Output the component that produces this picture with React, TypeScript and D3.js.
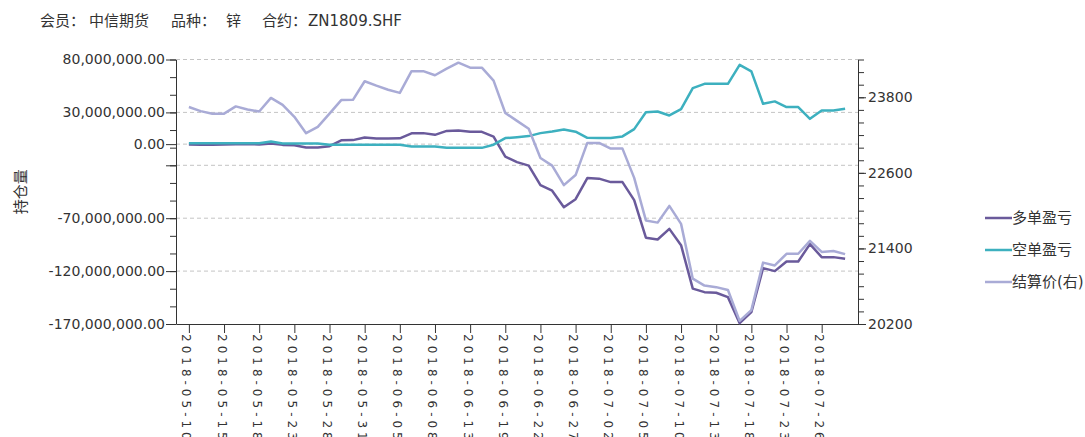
import React, { useEffect, useRef } from 'react'
import * as d3 from 'd3'

// trading days shown on the x axis
const dates = [
  '2018-05-10', '2018-05-11', '2018-05-14', '2018-05-15', '2018-05-16', '2018-05-17', '2018-05-18',
  '2018-05-21', '2018-05-22', '2018-05-23', '2018-05-24', '2018-05-25', '2018-05-28', '2018-05-29',
  '2018-05-30', '2018-05-31', '2018-06-01', '2018-06-04', '2018-06-05', '2018-06-06', '2018-06-07',
  '2018-06-08', '2018-06-11', '2018-06-12', '2018-06-13', '2018-06-14', '2018-06-15', '2018-06-19',
  '2018-06-20', '2018-06-21', '2018-06-22', '2018-06-25', '2018-06-26', '2018-06-27', '2018-06-28',
  '2018-06-29', '2018-07-02', '2018-07-03', '2018-07-04', '2018-07-05', '2018-07-06', '2018-07-09',
  '2018-07-10', '2018-07-11', '2018-07-12', '2018-07-13', '2018-07-16', '2018-07-17', '2018-07-18',
  '2018-07-19', '2018-07-20', '2018-07-23', '2018-07-24', '2018-07-25', '2018-07-26', '2018-07-27',
  '2018-07-30',
]

// 多单盈亏, millions
const longPnl = [
  -0.3, -0.5, -0.5, -0.3, 0, 0, -0.3, 0.5, -0.7, -1.0, -3.1, -3.1, -1.9, 3.6, 3.8, 6.3, 5.4, 5.4, 5.5,
  10.2, 10.4, 8.8, 12.5, 12.8, 11.6, 11.6, 7.1, -11.8, -17, -20.3, -38.8, -44, -59.6, -52, -32.1, -32.6,
  -35.9, -35.9, -52.9, -88.4, -90.1, -80.1, -95.5, -136.6, -139.9, -140.5, -144.6, -169.2, -158.8,
  -117.2, -120, -110.9, -110.9, -94.5, -106.8, -106.8, -108.4,
]

// 空单盈亏, millions
const shortPnl = [
  0.8, 0.8, 0.8, 0.8, 0.8, 0.8, 0.8, 2.5, 0.6, 0.6, 0.6, 0.6, -0.5, -0.5, -0.5, -0.5, -0.5, -0.5, -0.5,
  -2.2, -2.2, -2.2, -3.5, -3.5, -3.5, -3.5, -0.5, 5.7, 6.6, 7.6, 10.4, 12, 13.9, 11.8, 6, 5.7, 5.7, 7.3,
  14.2, 30.2, 30.9, 27.1, 33.1, 52.9, 57, 57, 57, 75, 68.8, 38.1, 40.4, 35, 35, 23.9, 31.9, 31.9, 33.4,
]

// 结算价(右)
const settle = [
  23645, 23580, 23540, 23540, 23655, 23605, 23575, 23790, 23680, 23490, 23230, 23330, 23540, 23755,
  23760, 24055, 23985, 23920, 23870, 24215, 24215, 24150, 24255, 24350, 24270, 24270, 24065, 23550,
  23425, 23300, 22835, 22715, 22405, 22565, 23075, 23075, 22985, 22985, 22520, 21845, 21810, 22075,
  21790, 20920, 20810, 20785, 20740, 20250, 20420, 21175, 21130, 21315, 21315, 21520, 21345, 21360,
  21310,
]

const leftLabels = [-170e6, -120e6, -70e6, 0, 30e6, 80e6]
const leftGrid = [-120e6, -70e6, -20e6, 0, 30e6, 80e6]
const rightLabels = [20200, 21400, 22600, 23800]

const W = 1085
const H = 437
const FONT = "'DejaVu Sans', 'Noto Sans CJK SC', sans-serif"

const C_LONG = '#6a5a9b'
const C_SHORT = '#3db0bf'
const C_SETTLE = '#a9abd6'

export default function App() {
  const ref = useRef<SVGSVGElement>(null)

  useEffect(() => {
    const svg = d3.select(ref.current)
    svg.selectAll('*').remove()

    const L = 176, R = 858, T = 59.5, B = 324

    const x = d3.scalePoint<string>().domain(dates).range([L, R]).padding(1.1)
    const yL = d3.scaleLinear().domain([-170e6, 80e6]).range([B, T])
    const yR = d3.scaleLinear().domain([20200, 24400]).range([B, T])

    const fmt = d3.formatLocale({ decimal: '.', thousands: ',', grouping: [3], currency: ['', ''], minus: '-' }).format(',.2f')

    // title
    const title = svg.append('g').attr('font-family', FONT).attr('font-size', 15).attr('fill', '#333')
    ;[['会员：', 40], ['中信期货', 89], ['品种：', 171], ['锌', 226], ['合约：', 262], ['ZN1809.SHF', 308]].forEach(([t, px]) => {
      title.append('text').attr('x', px as number).attr('y', 26).text(t as string)
    })

    // grid
    svg.append('g').selectAll('line').data(leftGrid).enter().append('line')
      .attr('x1', L).attr('x2', R)
      .attr('y1', d => yL(d)).attr('y2', d => yL(d))
      .attr('stroke', '#c4c4c4').attr('stroke-dasharray', '4,3')

    // left axis
    const minorL = d3.range(-170e6, 80e6 + 1, 50e6 / 3)
    svg.append('g').attr('transform', `translate(${L},0)`)
      .call(d3.axisLeft(yL).tickValues(minorL).tickSize(6).tickSizeOuter(0).tickFormat(() => ''))
      .attr('color', '#333')
    svg.append('g').attr('transform', `translate(${L},0)`)
      .call(d3.axisLeft(yL).tickValues([-20e6]).tickSize(10).tickSizeOuter(0).tickFormat(() => ''))
      .attr('color', '#333')
      .select('.domain').remove()
    const gl = svg.append('g').attr('transform', `translate(${L},0)`)
      .call(d3.axisLeft(yL).tickValues(leftLabels).tickSize(10).tickSizeOuter(0).tickPadding(1).tickFormat(d => fmt(d as number)))
      .attr('color', '#333')
    gl.select('.domain').remove()
    gl.selectAll('text').attr('font-family', FONT).attr('font-size', 14).attr('fill', '#333')

    // right axis
    svg.append('g').attr('transform', `translate(${R},0)`)
      .call(d3.axisRight(yR).tickValues(d3.range(20200, 24401, 200)).tickSize(6).tickSizeOuter(0).tickFormat(() => ''))
      .attr('color', '#333')
    const gr = svg.append('g').attr('transform', `translate(${R},0)`)
      .call(d3.axisRight(yR).tickValues(rightLabels).tickSize(8).tickSizeOuter(0).tickPadding(2).tickFormat(d3.format('d')))
      .attr('color', '#333')
    gr.select('.domain').remove()
    gr.selectAll('text').attr('font-family', FONT).attr('font-size', 14).attr('fill', '#333')

    // bottom axis
    const gx = svg.append('g').attr('transform', `translate(0,${B})`)
      .call(d3.axisBottom(x).tickValues(dates.filter((_, i) => i % 3 === 0)).tickSize(9).tickSizeOuter(0))
      .attr('color', '#333')
    gx.selectAll('text')
      .attr('font-family', FONT).attr('font-size', 12).attr('fill', '#333')
      .attr('letter-spacing', '4px')
      .attr('text-anchor', 'start')
      .attr('transform', 'rotate(90)')
      .attr('x', 10).attr('y', 0).attr('dy', '7')

    // y title
    svg.append('text')
      .attr('transform', `translate(21,${(T + B) / 2}) rotate(-90)`)
      .attr('text-anchor', 'middle').attr('dominant-baseline', 'central')
      .attr('font-family', FONT).attr('font-size', 15).attr('fill', '#333')
      .text('持仓量')

    // series
    const lineL = d3.line<number>().x((_, i) => x(dates[i]) as number).y(d => yL(d * 1e6))
    const lineR = d3.line<number>().x((_, i) => x(dates[i]) as number).y(d => yR(d))

    svg.append('path').datum(longPnl).attr('d', lineL)
      .attr('fill', 'none').attr('stroke', C_LONG).attr('stroke-width', 2.5).attr('stroke-linejoin', 'round')
    svg.append('path').datum(shortPnl).attr('d', lineL)
      .attr('fill', 'none').attr('stroke', C_SHORT).attr('stroke-width', 2.5).attr('stroke-linejoin', 'round')
    svg.append('path').datum(settle).attr('d', lineR)
      .attr('fill', 'none').attr('stroke', C_SETTLE).attr('stroke-width', 2.5).attr('stroke-linejoin', 'round')

    // legend
    const legend = [
      { name: '多单盈亏', color: C_LONG },
      { name: '空单盈亏', color: C_SHORT },
      { name: '结算价(右)', color: C_SETTLE },
    ]
    const lg = svg.append('g').selectAll('g').data(legend).enter().append('g')
      .attr('transform', (_, i) => `translate(985,${218 + i * 32})`)
    lg.append('line').attr('x1', 0).attr('x2', 27).attr('stroke', d => d.color).attr('stroke-width', 2.5)
    lg.append('text').attr('x', 27).attr('dominant-baseline', 'central')
      .attr('font-family', FONT).attr('font-size', 15).attr('fill', '#333')
      .text(d => d.name)
  }, [])

  return (
    <svg ref={ref} width={W} height={H}
      style={{ position: 'absolute', left: 0, top: 0, background: '#fff', overflow: 'hidden' }} />
  )
}
